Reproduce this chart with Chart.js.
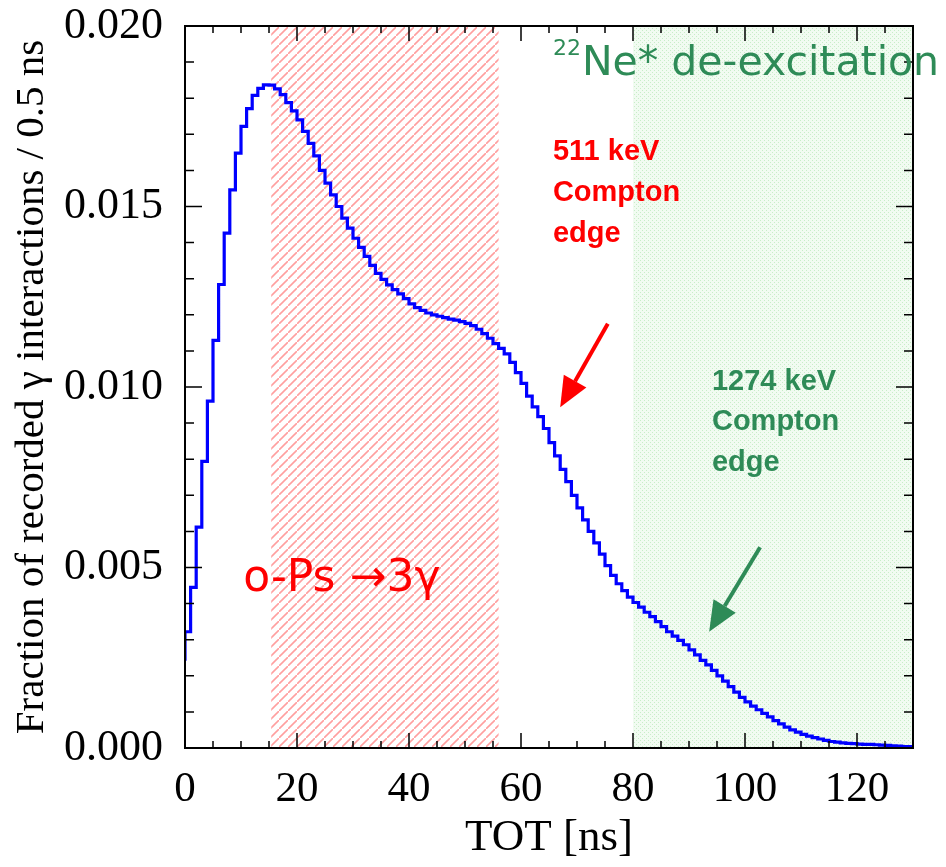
<!DOCTYPE html>
<html>
<head>
<meta charset="utf-8">
<script src="https://cdn.jsdelivr.net/npm/chart.js@4.4.1/dist/chart.umd.min.js"></script>
<style>
  html, body { margin: 0; padding: 0; background: #fff; }
  #wrap { width: 946px; height: 867px; }
</style>
</head>
<body>
<div id="wrap"><canvas id="tot"></canvas></div>
<script>
// TOT spectrum, 1 ns bins from 0 to 130 ns
const binWidth = 1;
const fraction = [
  0.00242, 0.00322, 0.00445, 0.00612, 0.00794, 0.00961, 0.01129, 0.01284, 0.01426, 0.01546,
  0.01648, 0.01722, 0.01771, 0.01808, 0.01827, 0.01837, 0.01836, 0.01826, 0.01810, 0.01788,
  0.01765, 0.01740, 0.01708, 0.01675, 0.01640, 0.01600, 0.01565, 0.01532, 0.01500, 0.01468,
  0.01440, 0.01412, 0.01387, 0.01362, 0.01337, 0.01315, 0.01298, 0.01283, 0.01270, 0.01258,
  0.01245, 0.01230, 0.01220, 0.01212, 0.01205, 0.01200, 0.01196, 0.01192, 0.01188, 0.01185,
  0.01181, 0.01176, 0.01170, 0.01160, 0.01148, 0.01135, 0.01120, 0.01107, 0.01092, 0.01068,
  0.01040, 0.01010, 0.00975, 0.00945, 0.00918, 0.00885, 0.00846, 0.00809, 0.00772, 0.00738,
  0.00700, 0.00665, 0.00632, 0.00600, 0.00568, 0.00537, 0.00505, 0.00478, 0.00455, 0.00436,
  0.00418, 0.00403, 0.00390, 0.00376, 0.00364, 0.00350, 0.00336, 0.00322, 0.00310, 0.00298,
  0.00286, 0.00272, 0.00258, 0.00243, 0.00230, 0.00215, 0.00200, 0.00185, 0.00170, 0.00155,
  0.00140, 0.00128, 0.00116, 0.00106, 0.00096, 0.00086, 0.00076, 0.00067, 0.00058, 0.00050,
  0.00044, 0.00038, 0.00033, 0.00029, 0.00025, 0.00021, 0.00018, 0.00016, 0.00014, 0.00013,
  0.00012, 0.00011, 0.00010, 0.00010, 0.00009, 0.00008, 0.00007, 0.00006, 0.00005, 0.00004
];
const xTicks = [0, 20, 40, 60, 80, 100, 120];
const yTicks = [0, 0.005, 0.010, 0.015, 0.020];
const oPsRange = [15.4, 56];   // o-Ps -> 3 gamma window [ns]
const neRange = [80, 130];     // 22Ne* de-excitation window [ns]

// step points: left edge of each bin, plus closing edge
const points = fraction.map((v, i) => ({ x: i * binWidth, y: v }));
points.push({ x: fraction.length * binWidth, y: fraction[fraction.length - 1] });

function makeHatch() {
  const c = document.createElement('canvas');
  c.width = 9; c.height = 9;
  const g = c.getContext('2d');
  g.strokeStyle = 'rgba(255,80,80,0.55)';
  g.lineWidth = 1.6;
  g.beginPath();
  g.moveTo(-1, 10); g.lineTo(10, -1);
  g.stroke();
  return g.createPattern(c, 'repeat');
}

function makeDots() {
  const c = document.createElement('canvas');
  c.width = 4; c.height = 4;
  const g = c.getContext('2d');
  g.fillStyle = 'rgba(232,248,232,0.6)';
  g.fillRect(0, 0, 4, 4);
  g.fillStyle = 'rgba(150,220,150,0.45)';
  g.fillRect(0, 0, 1, 1);
  g.fillRect(2, 2, 1, 1);
  return g.createPattern(c, 'repeat');
}

function arrow(ctx, x1, y1, x2, y2, color) {
  const a = Math.atan2(y2 - y1, x2 - x1);
  const head = 30, half = 13;
  const bx = x2 - head * Math.cos(a), by = y2 - head * Math.sin(a);
  ctx.strokeStyle = color;
  ctx.fillStyle = color;
  ctx.lineWidth = 4;
  ctx.beginPath();
  ctx.moveTo(x1, y1); ctx.lineTo(bx, by);
  ctx.stroke();
  ctx.beginPath();
  ctx.moveTo(x2, y2);
  ctx.lineTo(bx + half * Math.sin(a), by - half * Math.cos(a));
  ctx.lineTo(bx - half * Math.sin(a), by + half * Math.cos(a));
  ctx.closePath();
  ctx.fill();
}

const overlays = {
  id: 'overlays',
  beforeDatasetsDraw(chart) {
    const { ctx, chartArea: a, scales: { x } } = chart;
    ctx.save();
    ctx.fillStyle = makeDots();
    ctx.fillRect(x.getPixelForValue(neRange[0]), a.top, x.getPixelForValue(neRange[1]) - x.getPixelForValue(neRange[0]), a.bottom - a.top);
    ctx.fillStyle = makeHatch();
    ctx.fillRect(x.getPixelForValue(oPsRange[0]), a.top, x.getPixelForValue(oPsRange[1]) - x.getPixelForValue(oPsRange[0]), a.bottom - a.top);
    ctx.restore();
  },
  afterDatasetsDraw(chart) {
    const { ctx, chartArea: a, scales: { x, y } } = chart;
    const px = v => x.getPixelForValue(v);
    const py = v => y.getPixelForValue(v);
    ctx.save();

    // frame + inward ticks on all four sides
    ctx.strokeStyle = '#000';
    ctx.lineWidth = 2;
    ctx.strokeRect(a.left, a.top, a.right - a.left, a.bottom - a.top);
    ctx.lineWidth = 1.5;
    ctx.beginPath();
    for (let k = 0; k <= 26; k++) {
      const xp = px(k * 5), len = k % 4 === 0 ? 15 : 7;
      ctx.moveTo(xp, a.bottom); ctx.lineTo(xp, a.bottom - len);
      ctx.moveTo(xp, a.top); ctx.lineTo(xp, a.top + len);
    }
    for (let k = 0; k <= 20; k++) {
      const yp = py(k * 0.001), len = k % 5 === 0 ? 17 : 9;
      ctx.moveTo(a.left, yp); ctx.lineTo(a.left + len, yp);
      ctx.moveTo(a.right, yp); ctx.lineTo(a.right - len, yp);
    }
    ctx.stroke();

    // annotations
    ctx.textBaseline = 'middle';
    ctx.textAlign = 'left';
    ctx.fillStyle = '#ff0000';
    ctx.font = '44px "DejaVu Sans"';
    ctx.fillText('o-Ps \u21923\u03b3', px(10.4), py(0.00467));

    ctx.fillStyle = '#2e8b57';
    ctx.font = '22px "DejaVu Sans"';
    ctx.fillText('22', px(65.7), py(0.01935));
    const w22 = ctx.measureText('22').width;
    ctx.font = '41px "DejaVu Sans"';
    ctx.fillText('Ne* de-excitation', px(65.7) + w22 + 1, py(0.01895));

    ctx.font = 'bold 29px "Liberation Sans"';
    ctx.fillStyle = '#ff0000';
    ['511 keV', 'Compton', 'edge'].forEach((t, i) => ctx.fillText(t, px(65.7), py(0.0165 - i * 0.00113)));
    ctx.fillStyle = '#2e8b57';
    ['1274 keV', 'Compton', 'edge'].forEach((t, i) => ctx.fillText(t, px(94.1), py(0.01015 - i * 0.00113)));

    arrow(ctx, px(75.5), py(0.01175), px(67), py(0.00944), '#ff0000');
    arrow(ctx, px(102.7), py(0.00556), px(93.6), py(0.00322), '#2e8b57');
    ctx.restore();
  }
};

new Chart(document.getElementById('tot'), {
  type: 'line',
  data: {
    datasets: [{
      data: points,
      stepped: 'after',
      borderColor: '#0000ff',
      borderWidth: 3.2,
      pointRadius: 0,
      fill: false
    }]
  },
  options: {
    responsive: true,
    maintainAspectRatio: false,
    animation: false,
    layout: { padding: { left: 0, right: 33, top: 26, bottom: 0 } },
    plugins: { legend: { display: false }, tooltip: { enabled: false } },
    scales: {
      x: {
        type: 'linear', min: 0, max: 130,
        afterBuildTicks: s => { s.ticks = xTicks.map(v => ({ value: v })); },
        afterFit: s => { s.height = 119; },
        grid: { display: false },
        border: { display: false },
        ticks: { color: '#000', font: { family: 'Liberation Serif', size: 43 }, padding: 8, maxRotation: 0 },
        title: { display: true, text: 'TOT [ns]', color: '#000', font: { family: 'Liberation Serif', size: 45 }, padding: { top: 0, bottom: 2 } }
      },
      y: {
        min: 0, max: 0.02,
        afterBuildTicks: s => { s.ticks = yTicks.map(v => ({ value: v })); },
        afterFit: s => { s.width = 185; s.paddingTop = 0; s.paddingBottom = 0; },
        grid: { display: false },
        border: { display: false },
        ticks: { color: '#000', font: { family: 'Liberation Serif', size: 44 }, padding: 14, callback: v => v.toFixed(3) },
        title: { display: true, text: 'Fraction of recorded \u03b3 interactions / 0.5 ns', color: '#000', font: { family: 'Liberation Serif', size: 41 }, padding: { top: 8, bottom: 0 } }
      }
    }
  },
  plugins: [overlays]
});
</script>
</body>
</html>
